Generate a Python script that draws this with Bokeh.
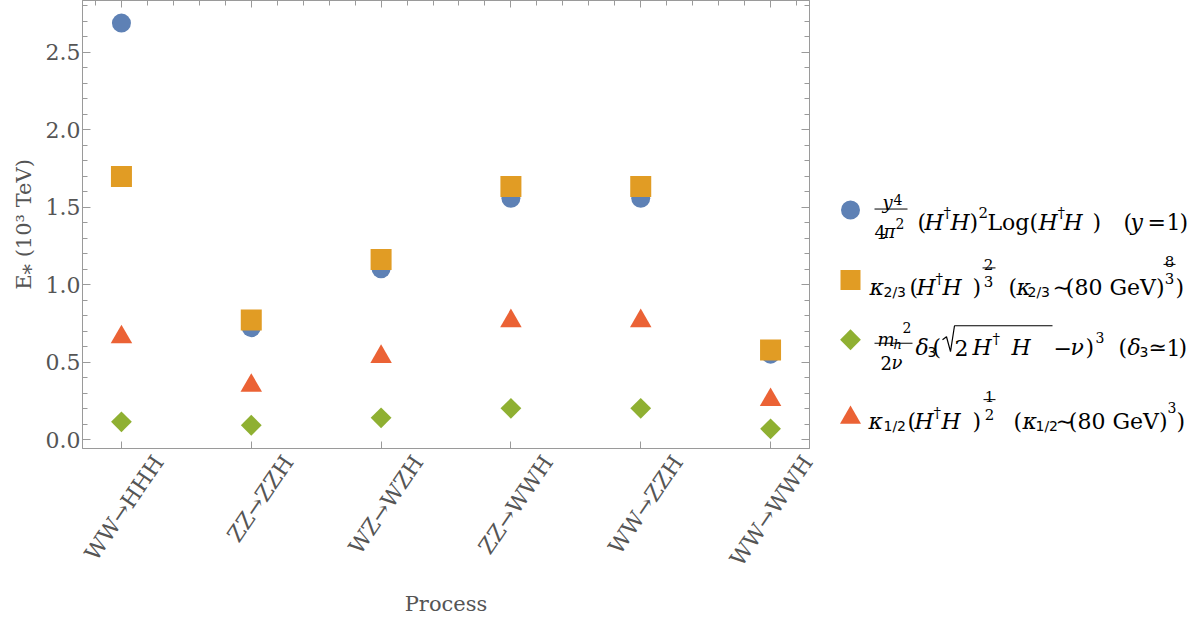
from bokeh.plotting import figure
from bokeh.models import (Range1d, LinearAxis, FixedTicker,
                          PrintfTickFormatter, CustomJSTickFormatter)
from bokeh.layouts import row
from bokeh.embed import file_html
from bokeh.resources import INLINE
from bokeh.core.properties import value
import numpy as np

# ---------------- data ----------------
processes = ["WW→HHH", "ZZ→ZZH", "WZ→WZH", "ZZ→WWH", "WW→ZZH", "WW→WWH"]
quartic_log = [2.687, 0.722, 1.102, 1.557, 1.557, 0.551]   # y^4/(4pi^2)(H+H)^2 Log(H+H)
kappa_23 = [1.698, 0.771, 1.161, 1.633, 1.633, 0.577]      # kappa_{2/3}(H+H)^{2/3}
delta_3 = [0.114, 0.092, 0.140, 0.201, 0.201, 0.069]       # m_h^2/(2v) delta_3 (...)^3
kappa_12 = [0.661, 0.348, 0.534, 0.765, 0.765, 0.256]      # kappa_{1/2}(H+H)^{1/2}
y_ticks = [0.0, 0.5, 1.0, 1.5, 2.0, 2.5]

xs = list(range(1, len(processes) + 1))

BLUE, ORANGE, GREEN, RED = "#5E81B5", "#E19C24", "#8FB032", "#EB6235"
FRAME = "#9a9a9a"
TXT = "#555555"
SERIF = "DejaVu Serif"
SANS = "DejaVu Sans"

Y0, Y1 = -0.058, 2.833
FRAME_BOTTOM = 449
H = 619
BB = H - FRAME_BOTTOM

# ---------------- main plot ----------------
p = figure(width=819, height=H, output_backend="svg", toolbar_location=None,
           x_range=Range1d(0.7, 6.3), y_range=Range1d(Y0, Y1),
           x_axis_location=None, y_axis_location=None,
           min_border_left=82, min_border_right=10, min_border_top=0,
           min_border_bottom=BB)
p.xgrid.visible = False
p.ygrid.visible = False
p.outline_line_color = FRAME
p.background_fill_color = "white"
p.border_fill_color = "white"

blank = CustomJSTickFormatter(code="return ''")


def style(ax, major_in, minor_in):
    ax.axis_line_color = FRAME
    ax.major_tick_line_color = FRAME
    ax.minor_tick_line_color = FRAME
    ax.major_tick_out = 0
    ax.minor_tick_out = 0
    ax.major_tick_in = major_in
    ax.minor_tick_in = minor_in
    ax.major_label_text_color = TXT
    ax.major_label_text_font = SERIF
    ax.major_label_text_font_size = "22px"
    ax.axis_label_text_color = TXT
    ax.axis_label_text_font = SERIF
    ax.axis_label_text_font_size = "21px"
    ax.axis_label_text_font_style = "normal"


y_minor = [round(0.1 * i, 1) for i in range(0, 29)]

left = LinearAxis(ticker=FixedTicker(ticks=y_ticks, minor_ticks=y_minor),
                  formatter=PrintfTickFormatter(format="%.1f"),
                  axis_label="E⁎ (10³ TeV)")
style(left, 8, 5)
left.major_label_standoff = 2
left.axis_label_standoff = 7
p.add_layout(left, "left")

right = LinearAxis(ticker=FixedTicker(ticks=y_ticks, minor_ticks=y_minor),
                   formatter=blank)
style(right, 8, 5)
right.major_label_standoff = 0
right.major_label_text_font_size = "1px"
p.add_layout(right, "right")

# leading blank lines push each rotated label sideways so it sits centred
# under its tick, as in the reference
bottom = LinearAxis(ticker=FixedTicker(ticks=xs, minor_ticks=[]),
                    major_label_overrides={x: "\n\n\n" + name for x, name in zip(xs, processes)},
                    axis_label="Process")
style(bottom, 7, 0)
bottom.major_label_orientation = 0.97
bottom.major_label_standoff = -16
bottom.axis_label_standoff = -14
p.add_layout(bottom, "below")

top = LinearAxis(ticker=FixedTicker(ticks=xs,
                                    minor_ticks=[round(0.8 + 0.2 * i, 1) for i in range(0, 28)]),
                 formatter=blank)
style(top, 7, 5)
top.major_label_standoff = 0
top.major_label_text_font_size = "1px"
p.add_layout(top, "above")

p.scatter(xs, quartic_log, marker="circle", size=19, fill_color=BLUE, line_color=None)
p.scatter(xs, kappa_23, marker="square", size=21, fill_color=ORANGE, line_color=None)
p.scatter(xs, delta_3, marker="square", size=14.7, angle=np.pi / 4,
          fill_color=GREEN, line_color=None)
p.scatter(xs, kappa_12, marker="triangle", size=21.5, fill_color=RED, line_color=None)

# ---------------- legend panel ----------------
lg = figure(width=379, height=H, output_backend="svg", toolbar_location=None,
            x_range=Range1d(819, 1198), y_range=Range1d(FRAME_BOTTOM, 0),
            x_axis_location=None, y_axis_location=None,
            min_border_left=0, min_border_right=0, min_border_top=0,
            min_border_bottom=BB)
lg.xgrid.visible = False
lg.ygrid.visible = False
lg.outline_line_color = None


def t(x, y, s, size=22, italic=False, align="left", font=SERIF, color="black"):
    lg.text(x=[x], y=[y], text=[s], text_font=value(font),
            text_font_size=value(f"{size}px"),
            text_font_style="italic" if italic else "normal",
            text_align=align, text_baseline="alphabetic", text_color=color)


def bar(x0, x1, y):
    lg.segment(x0=[x0], y0=[y], x1=[x1], y1=[y], line_color="black", line_width=1)


# keys
lg.scatter([850], [210], marker="circle", size=19, fill_color=BLUE, line_color=None)
lg.scatter([850], [280], marker="square", size=20, fill_color=ORANGE, line_color=None)
lg.scatter([850], [340], marker="square", size=14.7, angle=np.pi / 4,
           fill_color=GREEN, line_color=None)
lg.scatter([850], [418], marker="triangle", size=21, fill_color=RED, line_color=None)

# entry 1: y^4/(4 pi^2) (H+H)^2 Log(H+H)  (y = 1)
b = 222
t(882, 202, "y", 18, italic=True)
t(893, 199, "4", 14)
bar(874, 907, 209)
t(874, 232, "4", 18)
t(883, 232, "π", 18, italic=True)
t(895, 223, "2", 14)
t(917, b, "(")
t(924, b, "H", italic=True)
t(943, b - 9, "†", 15)
t(950, b, "H", italic=True)
t(969, b, ")")
t(978, b - 10, "2", 15)
t(987, b, "Log(")
t(1038, b, "H", italic=True)
t(1057, b - 9, "†", 15)
t(1063, b, "H", italic=True)
t(1092, b, ")")
t(1123, b, "(")
t(1130, b, "y", italic=True)
t(1147, b, "=")
t(1166, b, "1")
t(1179, b, ")")

# entry 2: kappa_{2/3}(H+H)^{2/3}  (kappa_{2/3} ~ (80 GeV)^{8/3})
b = 288
t(869, b, "κ", italic=True)
t(883, b + 4, "2/3", 14, font=SANS)
t(909, b, "(")
t(916, b, "H", italic=True)
t(935, b - 9, "†", 15)
t(942, b, "H", italic=True)
t(972, b, ")")
t(988, 265, "2", 15, align="center")
bar(982, 995, 268)
t(988, 282, "3", 15, align="center")
t(1008, b, "(")
t(1016, b, "κ", italic=True)
t(1027, b + 4, "2/3", 14, font=SANS)
t(1052, b, "∼")
t(1164, b, "(80 GeV)", align="right")
t(1169, 262, "8", 15, align="center")
bar(1163, 1175, 264.5)
t(1169, 279, "3", 15, align="center")
t(1175, b, ")")

# entry 3: m_h^2/(2 nu) delta_3 (sqrt(2 H+H) - nu)^3  (delta_3 ~= 1)
b = 348
t(877, 340, "m", 18, italic=True)
t(893, 345, "h", 13, italic=True)
t(902, 328, "2", 14)
bar(874, 912, 343.5)
t(880, 363, "2", 18)
t(891, 363, "ν", 18, italic=True)
t(915, b, "δ", italic=True)
t(927, b + 4, "3", 14, font=SANS)
t(932, b, "(")
lg.line([942, 946, 950, 954, 1052], [340, 337, 352, 326, 326], line_color="black", line_width=1.2)
t(954, b, "2")
t(972, b, "H", italic=True)
t(992, b - 9, "†", 15)
t(1011, b, "H", italic=True)
t(1053, b, "−")
t(1070, b, "ν", italic=True)
t(1085, b, ")")
t(1095, b - 10, "3", 14)
t(1118, b, "(")
t(1127, b, "δ", italic=True)
t(1139, b + 4, "3", 14, font=SANS)
t(1148, b, "≃")
t(1166, b, "1")
t(1178, b, ")")

# entry 4: kappa_{1/2}(H+H)^{1/2}  (kappa_{1/2} ~ (80 GeV)^3)
b = 422
t(868, b, "κ", italic=True)
t(883, b + 4, "1/2", 14, font=SANS)
t(907, b, "(")
t(914, b, "H", italic=True)
t(933, b - 9, "†", 15)
t(941, b, "H", italic=True)
t(972, b, ")")
t(989, 397, "1", 15, align="center")
bar(983, 995, 400)
t(989, 415, "2", 15, align="center")
t(1013, b, "(")
t(1022, b, "κ", italic=True)
t(1035, b + 4, "1/2", 14, font=SANS)
t(1055, b, "∼")
t(1167, b, "(80 GeV)", align="right")
t(1167, b - 14, "3", 14)
t(1176, b, ")")

layout = row(p, lg)
open("out.html", "w").write(file_html(layout, INLINE))
